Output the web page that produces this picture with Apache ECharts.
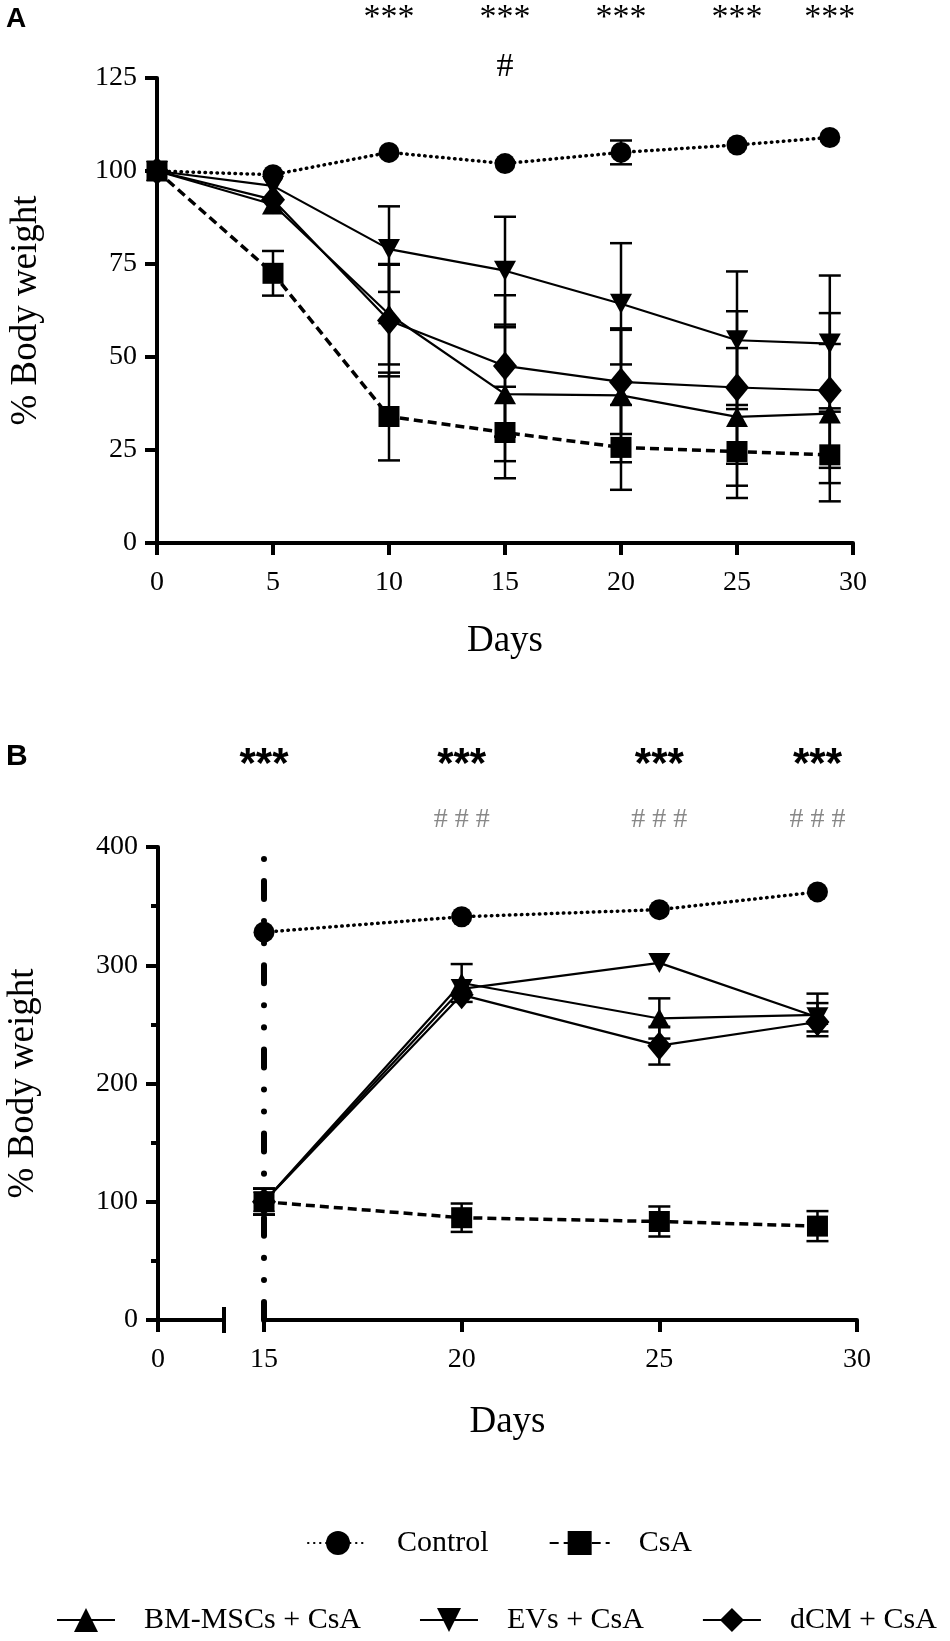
<!DOCTYPE html>
<html>
<head>
<meta charset="utf-8">
<script src="https://cdn.jsdelivr.net/npm/echarts@6/dist/echarts.min.js"></script>
<style>
html, body { margin: 0; padding: 0; background: #fff; }
#main { width: 950px; height: 1641px; }
</style>
</head>
<body>
<div id="main"></div>
<script>
// panel A: body weight from day 0
var daysA = [0, 5, 10, 15, 20, 25, 29];
var controlA = [100, 99, 105, 102, 105, 107, 109];
var controlErrA = [0, 0, 0, 0, 3.2, 0, 0];
var csaA = [100, 72.5, 34, 29.7, 25.7, 24.6, 23.7];
var csaErrA = [0, 6, 11.8, 12.3, 11.4, 12.5, 12.5];
var bmA = [100, 91, 61.5, 40, 39.7, 33.9, 34.8];
var bmErrA = [0, 0, 13.5, 18, 18, 18.5, 18.7];
var evsA = [100, 96, 79, 73.2, 64.3, 54.5, 53.6];
var evsErrA = [0, 0, 11.5, 14.5, 16.3, 18.5, 18.3];
var dcmA = [100, 92.3, 59.8, 47.6, 43.3, 41.8, 41];
var dcmErrA = [0, 0, 15, 19, 14, 20.5, 20.8];

// panel B: body weight from day 15
var daysB = [15, 20, 25, 29];
var controlB = [328, 341, 347, 362];
var controlErrB = [0, 0, 0, 0];
var csaB = [100, 86.5, 83.3, 79.4];
var csaErrB = [11, 12, 12.7, 12.7];
var bmB = [100, 285, 255, 258];
var bmErrB = [11, 16, 17, 18];
var evsB = [100, 280, 302, 256];
var evsErrB = [11, 0, 0, 12];
var dcmB = [100, 275, 232, 252];
var dcmErrB = [11, 0, 16, 0];

var starDaysA = [10, 15, 20, 25, 29];
var hashDaysA = [15];
var starDaysB = [15, 20, 25, 29];
var hashDaysB = [20, 25, 29];

var names = ['Control', 'CsA', 'BM-MSCs + CsA', 'EVs + CsA', 'dCM + CsA'];
var serif = "'Liberation Serif', 'Times New Roman', serif";
var sans = "'Liberation Sans', Arial, sans-serif";

var looks = {
	'Control': { symbol: 'circle', size: 21, rotate: 0, line: { width: 3.5, type: [0.5, 5.5], cap: 'round' } },
	'CsA': { symbol: 'rect', size: 21, rotate: 0, line: { width: 3.5, type: [9, 5] } },
	'BM-MSCs + CsA': { symbol: 'triangle', size: [22, 20], rotate: 0, line: { width: 2.2, type: 'solid' } },
	'EVs + CsA': { symbol: 'triangle', size: [22, 20], rotate: 180, line: { width: 2.2, type: 'solid' } },
	'dCM + CsA': { symbol: 'diamond', size: [24, 29], rotate: 0, line: { width: 2.2, type: 'solid' } }
};

function pairs(days, vals) {
	var out = [];
	for (var i = 0; i < days.length; i++) out.push([days[i], vals[i]]);
	return out;
}

function triples(days, vals, errs) {
	var out = [];
	for (var i = 0; i < days.length; i++) out.push([days[i], vals[i], errs[i]]);
	return out;
}

function lineSeries(name, xi, yi, days, vals) {
	var lk = looks[name];
	return {
		name: name, type: 'line', xAxisIndex: xi, yAxisIndex: yi,
		data: pairs(days, vals),
		symbol: lk.symbol, symbolSize: lk.size, symbolRotate: lk.rotate,
		lineStyle: { color: '#000', width: lk.line.width, type: lk.line.type, cap: lk.line.cap || 'butt' },
		itemStyle: { color: '#000' },
		z: 4, animation: false
	};
}

function errSeries(xi, yi, days, vals, errs) {
	return {
		type: 'custom', xAxisIndex: xi, yAxisIndex: yi,
		data: triples(days, vals, errs),
		encode: { x: 0, y: 1 }, clip: false, silent: true, z: 3, animation: false,
		renderItem: function (params, api) {
			var x = api.value(0), y = api.value(1), e = api.value(2);
			if (!e) return;
			var top = api.coord([x, y + e]);
			var bot = api.coord([x, y - e]);
			var hw = 11;
			var st = { stroke: '#000', lineWidth: 2.5 };
			return {
				type: 'group',
				children: [
					{ type: 'line', shape: { x1: top[0], y1: top[1], x2: bot[0], y2: bot[1] }, style: st },
					{ type: 'line', shape: { x1: top[0] - hw, y1: top[1], x2: top[0] + hw, y2: top[1] }, style: st },
					{ type: 'line', shape: { x1: bot[0] - hw, y1: bot[1], x2: bot[0] + hw, y2: bot[1] }, style: st }
				]
			};
		}
	};
}

var axisLine = { show: true, lineStyle: { color: '#000', width: 4 } };
var axisTick = { show: true, length: 12, lineStyle: { color: '#000', width: 4 } };
var tickLabel = { color: '#000', fontFamily: serif, fontSize: 28 };

var series = [];
var setsA = [[controlA, controlErrA], [csaA, csaErrA], [bmA, bmErrA], [evsA, evsErrA], [dcmA, dcmErrA]];
var setsB = [[controlB, controlErrB], [csaB, csaErrB], [bmB, bmErrB], [evsB, evsErrB], [dcmB, dcmErrB]];
for (var i = 0; i < names.length; i++) {
	series.push(errSeries(0, 0, daysA, setsA[i][0], setsA[i][1]));
	series.push(errSeries(2, 2, daysB, setsB[i][0], setsB[i][1]));
}
for (var i = 0; i < names.length; i++) {
	series.push(lineSeries(names[i], 0, 0, daysA, setsA[i][0]));
	series.push(lineSeries(names[i], 2, 2, daysB, setsB[i][0]));
}
// dash-dot line marking day 15 in panel B
series.push({
	type: 'line', xAxisIndex: 2, yAxisIndex: 2, data: [], z: 2, animation: false,
	markLine: {
		silent: true, symbol: 'none', animation: false, label: { show: false },
		lineStyle: { color: '#000', width: 6, type: [18, 22, 0.1, 22, 0.1, 22], cap: 'round' },
		data: [[{ coord: [15, 0] }, { coord: [15, 396] }]]
	}
});

var legendText = { color: '#000', fontFamily: serif, fontSize: 30, padding: [0, 0, 0, 24] };

var chart = echarts.init(document.getElementById('main'), null, { renderer: 'canvas' });
chart.setOption({
	backgroundColor: '#fff',
	animation: false,
	grid: [
		{ left: 154, top: 78, width: 699, height: 465 },
		{ left: 158, top: 847, width: 66, height: 473 },
		{ left: 264, top: 847, width: 593, height: 473 }
	],
	xAxis: [
		{ type: 'value', gridIndex: 0, min: 0, max: 30, interval: 5, splitLine: { show: false },
			axisLine: axisLine, axisTick: axisTick, axisLabel: Object.assign({ margin: 26 }, tickLabel),
			name: 'Days', nameLocation: 'middle', nameGap: 80,
			nameTextStyle: { color: '#000', fontFamily: serif, fontSize: 37 } },
		{ type: 'value', gridIndex: 1, min: 0, max: 1, interval: 1, splitLine: { show: false },
			axisLine: axisLine,
			axisTick: Object.assign({ customValues: [0] }, axisTick),
			axisLabel: Object.assign({ margin: 26, customValues: [0] }, tickLabel) },
		{ type: 'value', gridIndex: 2, min: 15, max: 30, interval: 5, splitLine: { show: false },
			axisLine: axisLine, axisTick: axisTick, axisLabel: Object.assign({ margin: 26 }, tickLabel) }
	],
	yAxis: [
		{ type: 'value', gridIndex: 0, min: 0, max: 125, interval: 25, splitLine: { show: false },
			axisLine: axisLine, axisTick: axisTick, axisLabel: Object.assign({ margin: 20 }, tickLabel),
			name: '% Body weight', nameLocation: 'middle', nameGap: 112,
			nameTextStyle: { color: '#000', fontFamily: serif, fontSize: 37 } },
		{ type: 'value', gridIndex: 1, min: 0, max: 400, interval: 100, splitLine: { show: false },
			axisLine: axisLine, axisTick: axisTick, axisLabel: Object.assign({ margin: 20 }, tickLabel),
			minorTick: { show: true, splitNumber: 2, length: 7, lineStyle: { color: '#000', width: 4 } },
			minorSplitLine: { show: false },
			name: '% Body weight', nameLocation: 'middle', nameGap: 116,
			nameTextStyle: { color: '#000', fontFamily: serif, fontSize: 37 } },
		{ type: 'value', gridIndex: 2, min: 0, max: 400, interval: 100, show: false }
	],
	legend: [
		{ data: ['Control', 'CsA'], left: 302, top: 1523, width: 600, itemWidth: 60, itemHeight: 30, itemGap: 60,
			textStyle: legendText, selectedMode: false },
		{ data: ['BM-MSCs + CsA', 'EVs + CsA', 'dCM + CsA'], left: 51, top: 1600, width: 899, itemWidth: 58, itemHeight: 30, itemGap: 58,
			textStyle: legendText, selectedMode: false }
	],
	series: series
});

// annotations placed from the axes
var graphics = [];
function addText(x, y, txt, font, color) {
	graphics.push({ type: 'text', x: x, y: y, silent: true,
		style: { text: txt, font: font, fill: color || '#000', textAlign: 'center', textVerticalAlign: 'middle' } });
}
graphics.push({ type: 'text', x: 6, y: 19, style: { text: 'A', font: 'bold 28px ' + sans, fill: '#000', textVerticalAlign: 'middle' } });
graphics.push({ type: 'text', x: 6, y: 757, style: { text: 'B', font: 'bold 30px ' + sans, fill: '#000', textVerticalAlign: 'middle' } });
starDaysA.forEach(function (d) {
	addText(chart.convertToPixel({ xAxisIndex: 0 }, d), 18, '***', '34px ' + serif);
});
hashDaysA.forEach(function (d) {
	addText(chart.convertToPixel({ xAxisIndex: 0 }, d), 67, '#', '34px ' + serif);
});
starDaysB.forEach(function (d) {
	addText(chart.convertToPixel({ xAxisIndex: 2 }, d), 765, '***', 'bold 42px ' + sans);
});
hashDaysB.forEach(function (d) {
	addText(chart.convertToPixel({ xAxisIndex: 2 }, d), 820, '# # #', '28px ' + serif, '#888');
});
// panel B x-axis title, centred on the full broken axis
var bLeft = chart.convertToPixel({ xAxisIndex: 1 }, 0);
var bRight = chart.convertToPixel({ xAxisIndex: 2 }, 30);
var bAxisY = chart.convertToPixel({ yAxisIndex: 1 }, 0);
addText((bLeft + bRight) / 2, bAxisY + 102, 'Days', '37px ' + serif);
// axis break mark
var brk = chart.convertToPixel({ xAxisIndex: 1 }, 1);
graphics.push({ type: 'line', silent: true, shape: { x1: brk, y1: bAxisY - 13, x2: brk, y2: bAxisY + 13 },
	style: { stroke: '#000', lineWidth: 4 } });
chart.setOption({ graphic: graphics });
</script>
</body>
</html>
